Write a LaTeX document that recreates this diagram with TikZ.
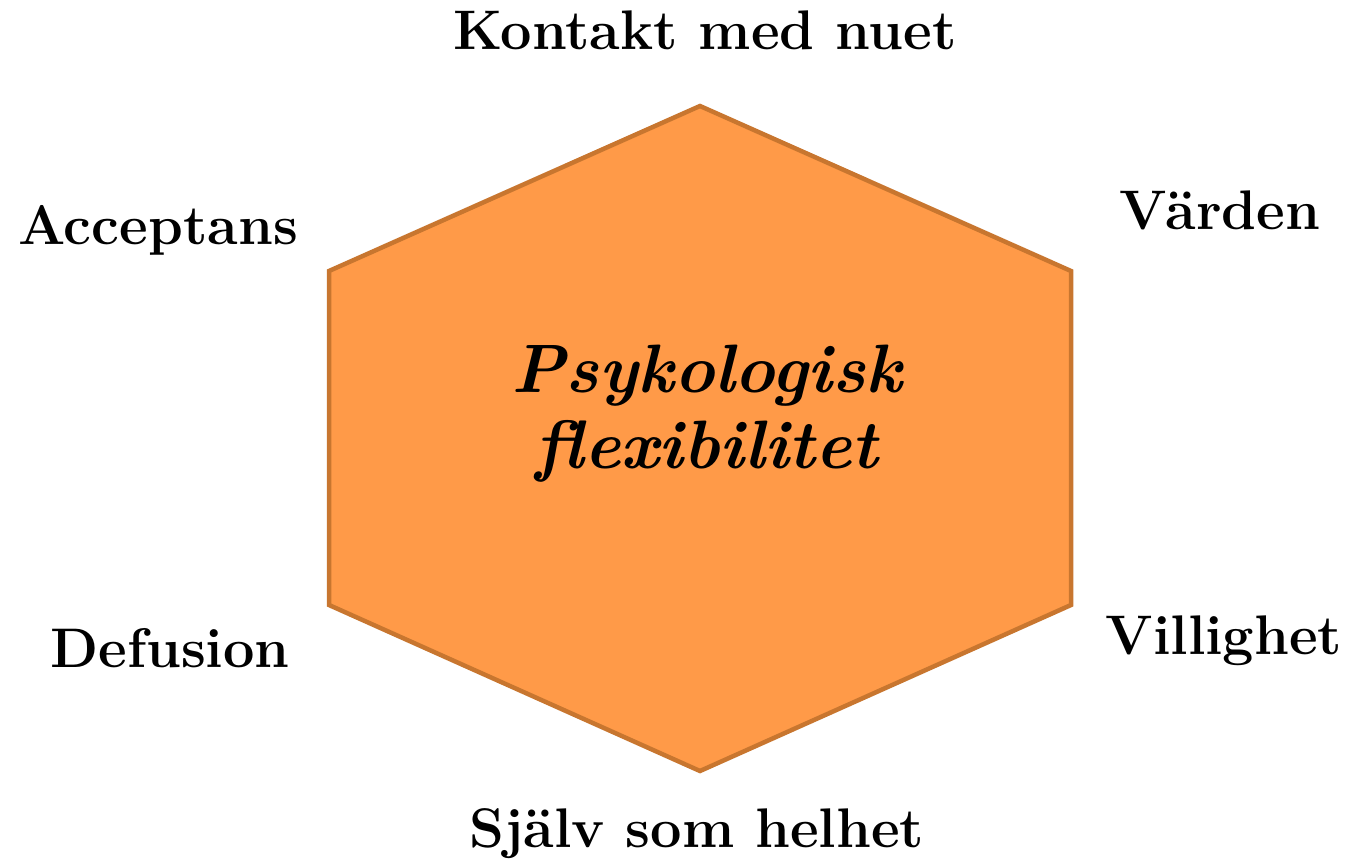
\documentclass[tikz,border=0pt]{standalone}
\definecolor{hexfill}{HTML}{FF9A48}
\definecolor{hexdraw}{HTML}{C8762F}
\begin{document}
\begin{tikzpicture}[x=1pt,y=-1pt,
  lbl/.style={anchor=base,inner sep=0pt,font=\fontsize{55.8}{67}\selectfont\bfseries},
  hexstyle/.style={fill=hexfill,draw=hexdraw,line width=4.5pt,line join=miter}]
\useasboundingbox (0,0) rectangle (1351,859);
\coordinate (t) at (700,106);
\coordinate (ur) at (1071,271);
\coordinate (lr) at (1071,605);
\coordinate (b) at (700,771);
\coordinate (ll) at (329,605);
\coordinate (ul) at (329,271);
\draw[hexstyle] (t) -- (ur) -- (lr) -- (b) -- (ll) -- (ul) -- cycle;
\node[align=center,inner sep=0pt,font=\fontsize{68.5}{76}\selectfont\bfseries\itshape] (c) at (707,414) {Psykologisk\\flexibilitet};
\node[lbl] (kon) at (705,49) {Kontakt med nuet};
\node[lbl] (acc) at (158,244) {Acceptans};
\node[lbl] (var) at (1220,229) {Värden};
\node[lbl] (def) at (170,667) {Defusion};
\node[lbl] (vil) at (1224,654) {Villighet};
\node[lbl] (sja) at (697,847) {Själv som helhet};
\end{tikzpicture}
\end{document}
